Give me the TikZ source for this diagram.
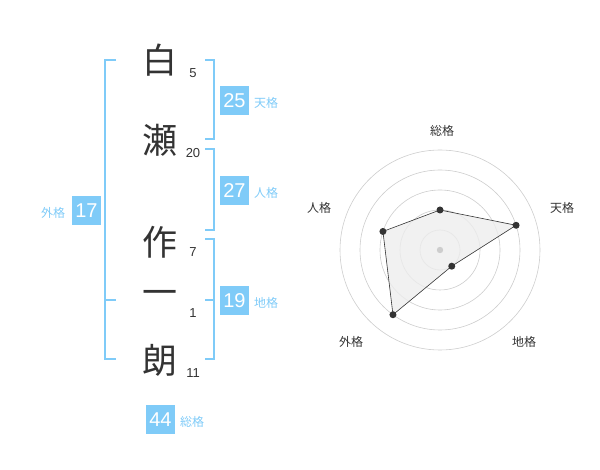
\documentclass[tikz,border=0pt]{standalone}
\usepackage{fontspec}
\setmainfont{Noto Sans CJK JP}
\newfontfamily\digits{Liberation Sans}
\usepackage{tikz}
\definecolor{kblue}{RGB}{127,203,248}
\definecolor{kink}{RGB}{51,51,51}
\definecolor{kring}{RGB}{205,205,205}
\newcommand{\moji}[5]{
\path (160,#1) node[text=kink,font=\fontsize{35}{35}\selectfont] (#3) {#2};
\path (193,#4) node[text=kink,font=\digits\fontsize{13}{13}\selectfont] (#3n) {#5};
}
\newcommand{\kaku}[6]{
\path (#1,#2) node[fill=kblue,text=white,minimum size=29pt,inner sep=0,font=\digits\fontsize{20}{20}\selectfont] (#5) {#3};
\path (#6,#2+2.5) node[text=kblue,font=\fontsize{12}{12}\selectfont] (#5lab) {#4};
}

\begin{document}
\begin{tikzpicture}[x=1pt,y=-1pt,inner sep=0]
\useasboundingbox (0,0) rectangle (600,470);

\moji{60}{白}{shira}{73}{5}
\moji{140}{瀬}{se}{153}{20}
\moji{242}{作}{saku}{252}{7}
\moji{298}{一}{ichi}{313}{1}
\moji{360}{朗}{rou}{373}{11}

\draw[kblue,line width=1.6pt] (116,60)--(105,60)--(105,359)--(116,359);
\draw[kblue,line width=1.6pt] (105,300)--(116,300);
\draw[kblue,line width=1.6pt] (205,60)--(214,60)--(214,139)--(205,139);
\draw[kblue,line width=1.6pt] (205,149)--(214,149)--(214,230)--(205,230);
\draw[kblue,line width=1.6pt] (205,239)--(214,239)--(214,359)--(205,359);
\draw[kblue,line width=1.6pt] (205,300)--(214,300);

\kaku{234.5}{100.5}{25}{天格}{ten}{266}
\kaku{234.5}{190.5}{27}{人格}{jin}{266}
\kaku{234.5}{300.5}{19}{地格}{chi}{266}
\kaku{86.5}{210.5}{17}{外格}{gai}{53}
\kaku{160.5}{419.5}{44}{総格}{sou}{192}

% radar
\coordinate (o) at (440,250);
\draw[kring,line width=.6pt] (o) circle (20pt);
\draw[kring,line width=.6pt] (o) circle (40pt);
\draw[kring,line width=.6pt] (o) circle (60pt);
\draw[kring,line width=.6pt] (o) circle (80pt);
\draw[kring,line width=.6pt] (o) circle (100pt);

\coordinate (rsou) at ([shift={(-90:40)}]o);
\coordinate (rten) at ([shift={(-18:80)}]o);
\coordinate (rchi) at ([shift={(54:20)}]o);
\coordinate (rgai) at ([shift={(126:80)}]o);
\coordinate (rjin) at ([shift={(198:60)}]o);
\draw[fill=black!7,fill opacity=.8,draw=kink,line width=.6pt] (rsou)--(rten)--(rchi)--(rgai)--(rjin)--cycle;
\fill[kring] (o) circle (3.2pt);
\fill[kink] (rsou) circle (3.5pt);
\fill[kink] (rten) circle (3.5pt);
\fill[kink] (rchi) circle (3.5pt);
\fill[kink] (rgai) circle (3.5pt);
\fill[kink] (rjin) circle (3.5pt);

\path (442,131) node[text=kink,font=\fontsize{12}{12}\selectfont] (lsou) {総格};
\path (562,208) node[text=kink,font=\fontsize{12}{12}\selectfont] (lten) {天格};
\path (319,208) node[text=kink,font=\fontsize{12}{12}\selectfont] (ljin) {人格};
\path (351,342) node[text=kink,font=\fontsize{12}{12}\selectfont] (lgai) {外格};
\path (524,342) node[text=kink,font=\fontsize{12}{12}\selectfont] (lchi) {地格};
\end{tikzpicture}
\end{document}
